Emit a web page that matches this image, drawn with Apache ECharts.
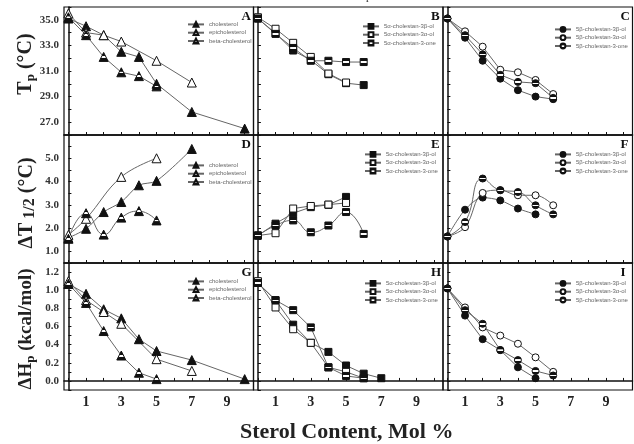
<!DOCTYPE html>
<html><head><meta charset="utf-8">
<script src="https://cdn.jsdelivr.net/npm/echarts@6/dist/echarts.min.js"></script>
<style>html,body{margin:0;padding:0;background:#fff}#c{width:634px;height:444px}</style>
</head><body><div id="c"></div><script>
// ---- axis ticks / labels ----
const xTickVals = [0,1,2,3,4,5,6,7,8,9,10];
const xLabelVals = [1,3,5,7,9];
const tpTickVals = [26,27,28,29,30,31,32,33,34,35,36];
const tpLabelVals = [27,29,31,33,35];
const dtTickVals = [0.5,1,1.5,2,2.5,3,3.5,4,4.5,5,5.5,6];
const dtLabelVals = [1,2,3,4,5];
const dhTickVals = [-0.1,0,0.1,0.2,0.3,0.4,0.5,0.6,0.7,0.8,0.9,1.0,1.1,1.2,1.3];
const dhLabelVals = [0,0.2,0.4,0.6,0.8,1.0,1.2];

// ---- legend names ----
const sterolNames = ['cholesterol','epicholesterol','beta-cholesterol'];
const alphaNames = ['5\u03b1-cholestan-3\u03b2-ol','5\u03b1-cholestan-3\u03b1-ol','5\u03b1-cholestan-3-one'];
const betaNames = ['5\u03b2-cholestan-3\u03b2-ol','5\u03b2-cholestan-3\u03b1-ol','5\u03b2-cholestan-3-one'];

// ---- sterol content (mol %) ----
const xChol = [0,1,2,3,4,5,7,10];
const xEpi = [0,1,2,3,5,7];
const xBeta = [0,1,2,3,4,5];
const xCholD = [0,1,2,3,4,5,7];
const xEpiD = [0,1,3,5];
const x0to5 = [0,1,2,3,4,5];
const x0to6 = [0,1,2,3,4,5,6];
const x0to7 = [0,1,2,3,4,5,6,7];

// ---- Tp (°C) ----
const tpChol = [35.1,34.5,33.8,32.5,32.1,30.0,27.8,26.5];
const tpEpi = [35.5,34.0,33.8,33.3,31.8,30.1];
const tpBeta = [35.2,33.8,32.1,30.9,30.6,29.8];
const tpA3b = [35.1,33.95,32.6,31.85,30.75,30.05,29.9];
const tpA3a = [35.2,34.3,33.2,32.1,30.8,30.1];
const tpA3one = [35.1,33.9,32.8,31.8,31.8,31.7,31.7];
const tpB3b = [35.1,33.6,31.8,30.4,29.5,29.0,28.8];
const tpB3a = [35.1,34.1,32.9,31.1,30.9,30.3,29.2];
const tpB3one = [35.1,33.8,32.3,30.7,30.15,30.05,28.9];

// ---- ΔT1/2 (°C) ----
const dtChol = [1.58,1.97,2.69,3.12,3.84,4.03,5.40];
const dtEpi = [1.71,2.40,4.20,5.0];
const dtBeta = [1.54,2.64,1.72,2.45,2.73,2.33];
const dtA3b = [1.68,2.19,2.64,2.90,3.00,3.34];
const dtA3a = [1.68,1.78,2.84,2.95,3.01,3.08];
const dtA3one = [1.68,2.11,2.33,1.82,2.11,2.69,1.75];
const dtB3b = [1.64,2.79,3.31,3.19,2.84,2.59];
const dtB3a = [1.64,2.04,3.51,3.63,3.41,3.41,2.98];
const dtB3one = [1.64,2.26,4.13,3.63,3.55,2.98,2.59];

// ---- ΔHp (kcal/mol) ----
const dhChol = [1.07,0.96,0.79,0.69,0.46,0.33,0.23,0.02];
const dhEpi = [1.10,0.89,0.76,0.63,0.24,0.11];
const dhBeta = [1.07,0.86,0.55,0.28,0.09,0.02];
const dhA3b = [1.08,0.89,0.62,0.42,0.32,0.17,0.08,0.03];
const dhA3a = [1.10,0.81,0.57,0.42,0.15,0.10,0.03];
const dhA3one = [1.08,0.89,0.78,0.59,0.15,0.055,0.03];
const dhB3b = [1.02,0.72,0.46,0.34,0.15,0.03];
const dhB3a = [1.02,0.81,0.59,0.50,0.41,0.26,0.10];
const dhB3one = [1.02,0.78,0.63,0.34,0.23,0.11,0.06];

// ---- styling helpers ----
const serif = 'Liberation Serif';
// dark marker crossed by a thin light band
function bandFill(){
  return {type: 'linear', x: 0, y: 0, x2: 0, y2: 1, global: false, colorStops: [
    {offset: 0, color: '#111'}, {offset: 0.42, color: '#111'},
    {offset: 0.43, color: '#fff'}, {offset: 0.6, color: '#fff'},
    {offset: 0.61, color: '#111'}, {offset: 1, color: '#111'}]};
}
function fillFor(kind){
  if (kind === 'filled') return '#111';
  if (kind === 'open') return '#fff';
  return bandFill();
}
const symSize = {triangle:9, rect:7, circle:7};

const colW = 189.5;
const cols = [64, 64 + colW, 64 + 2 * colW];
const rows = [{top:7,h:128},{top:135,h:128},{top:263,h:127}];

const yScales = [
  {min:26, max:36, ticks:tpTickVals, labels:tpLabelVals},
  {min:0.5, max:6, ticks:dtTickVals, labels:dtLabelVals},
  {min:-0.1, max:1.3, ticks:dhTickVals, labels:dhLabelVals}
];

function S(name, xs, ys, kind, symbol, smooth){ return {name, xs, ys, kind, symbol, smooth}; }

const panels = [
  // row 1
  {letter:'A', names:sterolNames, leg:[187,21], series:[
    S(sterolNames[0], xChol, tpChol, 'filled','triangle',0),
    S(sterolNames[1], xEpi, tpEpi, 'open','triangle',0),
    S(sterolNames[2], xBeta, tpBeta, 'half','triangle',0)]},
  {letter:'B', names:alphaNames, leg:[362,23], series:[
    S(alphaNames[0], x0to6, tpA3b, 'filled','rect',0),
    S(alphaNames[1], x0to5, tpA3a, 'open','rect',0),
    S(alphaNames[2], x0to6, tpA3one, 'half','rect',0)]},
  {letter:'C', names:betaNames, leg:[554,26], series:[
    S(betaNames[0], x0to6, tpB3b, 'filled','circle',0),
    S(betaNames[1], x0to6, tpB3a, 'open','circle',0),
    S(betaNames[2], x0to6, tpB3one, 'half','circle',0)]},
  // row 2
  {letter:'D', names:sterolNames, leg:[187,162], series:[
    S(sterolNames[0], xCholD, dtChol, 'filled','triangle',0.3),
    S(sterolNames[1], xEpiD, dtEpi, 'open','triangle',0.4),
    S(sterolNames[2], xBeta, dtBeta, 'half','triangle',0.5)]},
  {letter:'E', names:alphaNames, leg:[364,151], series:[
    S(alphaNames[0], x0to5, dtA3b, 'filled','rect',0),
    S(alphaNames[1], x0to5, dtA3a, 'open','rect',0),
    S(alphaNames[2], x0to6, dtA3one, 'half','rect',0.5)]},
  {letter:'F', names:betaNames, leg:[554,151], series:[
    S(betaNames[0], x0to5, dtB3b, 'filled','circle',0.3),
    S(betaNames[1], x0to6, dtB3a, 'open','circle',0.4),
    S(betaNames[2], x0to6, dtB3one, 'half','circle',0.5)]},
  // row 3
  {letter:'G', names:sterolNames, leg:[187,278], series:[
    S(sterolNames[0], xChol, dhChol, 'filled','triangle',0),
    S(sterolNames[1], xEpi, dhEpi, 'open','triangle',0),
    S(sterolNames[2], xBeta, dhBeta, 'half','triangle',0)]},
  {letter:'H', names:alphaNames, leg:[364,280], series:[
    S(alphaNames[0], x0to7, dhA3b, 'filled','rect',0),
    S(alphaNames[1], x0to6, dhA3a, 'open','rect',0),
    S(alphaNames[2], x0to6, dhA3one, 'half','rect',0)]},
  {letter:'I', names:betaNames, leg:[554,280], series:[
    S(betaNames[0], x0to5, dhB3b, 'filled','circle',0),
    S(betaNames[1], x0to6, dhB3a, 'open','circle',0),
    S(betaNames[2], x0to6, dhB3one, 'half','circle',0)]}
];

const grid = [], xAxis = [], yAxis = [], series = [], legend = [], graphic = [];

panels.forEach((p, i) => {
  const r = Math.floor(i / 3), c = i % 3;
  const left = cols[c], top = rows[r].top, h = rows[r].h;
  grid.push({left, top, width: colW, height: h, show: true, borderColor: '#111', borderWidth: 1.2, backgroundColor: 'transparent'});
  xAxis.push({
    type: 'value', gridIndex: i, min: -0.25, max: 10.5,
    axisLine: {show: true, lineStyle: {color: '#111', width: 1.5}},
    axisTick: {show: true, inside: true, length: 3, customValues: xTickVals, lineStyle: {color: '#111'}},
    axisLabel: {show: r === 2, customValues: xLabelVals, margin: 5,
      fontFamily: serif, fontWeight: 'bold', fontSize: 14, color: '#222'},
    splitLine: {show: false}
  });
  const ys = yScales[r];
  yAxis.push({
    type: 'value', gridIndex: i, min: ys.min, max: ys.max,
    axisLine: {show: true, lineStyle: {color: '#111', width: 1.5}},
    axisTick: {show: true, inside: true, length: 3, customValues: ys.ticks, lineStyle: {color: '#111'}},
    axisLabel: {show: c === 0, customValues: ys.labels, margin: 5,
      formatter: v => Number(v).toFixed(1),
      fontFamily: serif, fontWeight: 'bold', fontSize: 11, color: '#333'},
    splitLine: {show: false}
  });
  p.series.forEach(s => {
    series.push({
      type: 'line', name: s.name, xAxisIndex: i, yAxisIndex: i,
      data: s.xs.map((x, k) => [x, s.ys[k]]),
      smooth: s.smooth, symbol: s.symbol, symbolSize: symSize[s.symbol], showSymbol: true,
      lineStyle: {color: '#666', width: 1},
      itemStyle: {color: fillFor(s.kind), borderColor: '#111', borderWidth: 1},
      emphasis: {disabled: true}, animation: false
    });
  });
  legend.push({
    orient: 'vertical', left: p.leg[0], top: p.leg[1], padding: 0,
    itemWidth: 16, itemHeight: 6, itemGap: 1.5, selectedMode: false,
    textStyle: {fontSize: 6, color: '#666', fontFamily: 'Liberation Sans'},
    data: p.names
  });
  graphic.push({
    type: 'text', left: left + colW - 12, top: top + 3, z: 100,
    style: {text: p.letter, fontFamily: serif, fontWeight: 'bold', fontSize: 13, fill: '#111'}
  });
});

// axis titles
const titleFont = {fontFamily: serif, fontWeight: 'bold', fill: '#222'};
function yTitle(x, y, text, rich){
  return {type:'text', x, y, rotation: Math.PI/2, z: 100,
    style: Object.assign({text, align:'center', verticalAlign:'middle', rich}, titleFont)};
}
const bigTok = {fontFamily: serif, fontWeight: 'bold', fontSize: 20, fill: '#222'};
const subTok = {fontFamily: serif, fontWeight: 'bold', fontSize: 13, fill: '#222', padding: [10,0,0,0]};
graphic.push(yTitle(26, 64, '{b|T}{s|p}{b| (°C)}', {b: bigTok, s: subTok}));
graphic.push(yTitle(27, 203, '{b|\u0394T}{s| 1/2}{b| (°C)}', {b: bigTok, s: Object.assign({}, subTok, {fontSize: 16, padding:[6,0,0,0]})}));
graphic.push(yTitle(26, 329, '{b|\u0394H}{s|p}{b| (kcal/mol)}', {b: Object.assign({}, bigTok, {fontSize: 19}), s: subTok}));
graphic.push({type:'text', left: 240, top: 421, z: 100,
  style: Object.assign({text: 'Sterol Content, Mol %', fontSize: 22}, titleFont)});
graphic.push({type:'text', left: 366, top: -8, z: 100,
  style: {text: 'p', fontFamily: serif, fontSize: 11, fill: '#222'}});

const chart = echarts.init(document.getElementById('c'), null, {renderer: 'canvas'});
chart.setOption({animation: false, backgroundColor: '#fff', grid, xAxis, yAxis, series, legend, graphic});
</script></body></html>
